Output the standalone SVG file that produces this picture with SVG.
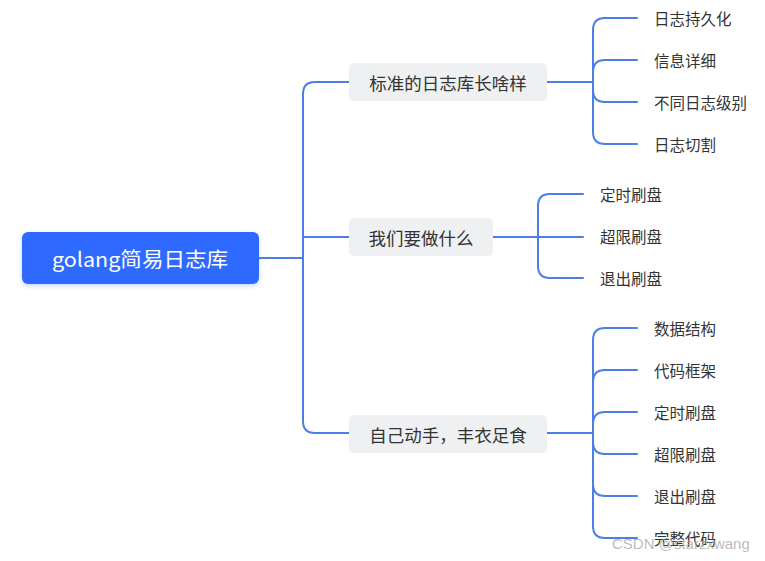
<svg xmlns="http://www.w3.org/2000/svg" width="765" height="561" viewBox="0 0 765 561">
<style>
.ln{fill:none;stroke:#4a7fe6;stroke-width:2;stroke-linecap:round}
.sub{fill:#eff0f2}
.t{font-family:"Noto Sans CJK SC","Noto Sans",sans-serif;fill:#333;}
.m{font-size:17.5px;text-anchor:middle;dominant-baseline:central}
.l{font-size:15.5px;dominant-baseline:central}
</style>
<defs>
<filter id="sh" x="-10%" y="-20%" width="120%" height="150%">
<feDropShadow dx="0" dy="2" stdDeviation="2.5" flood-color="#2f6bff" flood-opacity="0.25"/>
</filter>
</defs>
<rect width="765" height="561" fill="#fff"/>
<g id="connectors">
<path class="ln" d="M259,258 H303"/>
<path class="ln" d="M349,82 H315 Q303,82 303,94 V421 Q303,433 315,433 H349"/>
<path class="ln" d="M303,237 H349"/>
<path class="ln" d="M547,82 H593"/>
<path class="ln" d="M637,18 H605 Q593,18 593,30 V132 Q593,144 605,144 H637"/>
<path class="ln" d="M637,60 H605 Q593,60 593,72 V90 Q593,102 605,102 H637"/>
<path class="ln" d="M493,237 H583"/>
<path class="ln" d="M583,194 H550 Q538,194 538,206 V266 Q538,278 550,278 H583"/>
<path class="ln" d="M547,433 H593"/>
<path class="ln" d="M637,328 H605 Q593,328 593,340 V526 Q593,538 605,538 H637"/>
<path class="ln" d="M637,370 H605 Q593,370 593,382"/>
<path class="ln" d="M637,412 H605 Q593,412 593,424"/>
<path class="ln" d="M637,454 H605 Q593,454 593,442"/>
<path class="ln" d="M637,496 H605 Q593,496 593,484"/>
</g>
<g id="root">
<rect x="22" y="232" width="237" height="52" rx="6" fill="#2f6bff" filter="url(#sh)"/>
<text x="52" y="258" font-family="'Noto Sans CJK SC','Noto Sans',sans-serif" font-size="20" fill="#fff" dominant-baseline="central" textLength="176" lengthAdjust="spacingAndGlyphs">golang简易日志库</text>
</g>
<g id="n1">
<rect class="sub" x="349" y="63" width="198" height="38" rx="5"/>
<text class="t m" x="448" y="82">标准的日志库长啥样</text>
</g>
<g id="n2">
<rect class="sub" x="349" y="218" width="144" height="38" rx="5"/>
<text class="t m" x="421" y="237">我们要做什么</text>
</g>
<g id="n3">
<rect class="sub" x="349" y="415" width="198" height="38" rx="5"/>
<text class="t m" x="448" y="434">自己动手，丰衣足食</text>
</g>
<g id="n1c">
<text class="t l" x="654" y="18">日志持久化</text>
<text class="t l" x="654" y="60">信息详细</text>
<text class="t l" x="654" y="102">不同日志级别</text>
<text class="t l" x="654" y="144">日志切割</text>
</g>
<g id="n2c">
<text class="t l" x="600" y="194">定时刷盘</text>
<text class="t l" x="600" y="236">超限刷盘</text>
<text class="t l" x="600" y="278">退出刷盘</text>
</g>
<g id="n3c">
<text class="t l" x="654" y="328">数据结构</text>
<text class="t l" x="654" y="370">代码框架</text>
<text class="t l" x="654" y="412">定时刷盘</text>
<text class="t l" x="654" y="454">超限刷盘</text>
<text class="t l" x="654" y="496">退出刷盘</text>
<text class="t l" x="654" y="538">完整代码</text>
</g>
<text x="612" y="549" font-family="'Liberation Sans',sans-serif" font-size="15" fill="#aaa" fill-opacity="0.8">CSDN @starzxwang</text>
</svg>
